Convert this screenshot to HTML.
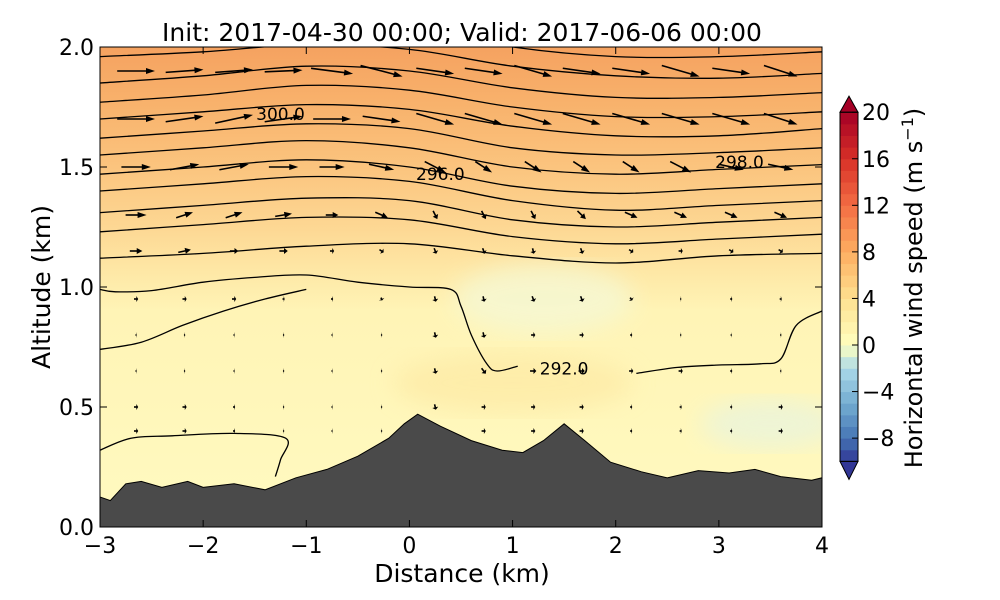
<!DOCTYPE html>
<html><head><meta charset="utf-8"><style>
body{margin:0;background:#fff;}
svg{display:block;font-family:"DejaVu Sans","Liberation Sans",sans-serif;}
</style></head><body>
<svg id="chart" width="1000" height="600">
<defs>
<linearGradient id="bg" x1="0" y1="0" x2="0" y2="1">
<stop offset="0" stop-color="#f5a260"/>
<stop offset="0.12" stop-color="#f8b26c"/>
<stop offset="0.25" stop-color="#fbc47e"/>
<stop offset="0.38" stop-color="#fdd894"/>
<stop offset="0.47" stop-color="#fee8a6"/>
<stop offset="0.55" stop-color="#fff4b6"/>
<stop offset="1" stop-color="#fffac0"/>
</linearGradient>
<filter id="blur"><feGaussianBlur stdDeviation="12"/></filter>
<clipPath id="clip"><rect x="100" y="47" width="722" height="480"/></clipPath>
</defs>
<text x="462" y="41" text-anchor="middle" font-size="25">Init: 2017-04-30 00:00; Valid: 2017-06-06 00:00</text>
<g id="plot" clip-path="url(#clip)"></g>
<rect x="100" y="47" width="722" height="480" fill="none" stroke="#000" stroke-width="1"/>
<g id="axes"></g>
<g id="cbar"></g>
<text x="462" y="582" text-anchor="middle" font-size="25">Distance (km)</text>
<text transform="translate(50,287) rotate(-90)" text-anchor="middle" font-size="25">Altitude (km)</text>
<text transform="translate(922,288) rotate(-90)" text-anchor="middle" font-size="24">Horizontal wind speed (m s<tspan dy="-9" font-size="16">−1</tspan><tspan dy="9">)</tspan></text>
</svg>
<script>
const xTicks=[-3,-2,-1,0,1,2,3,4];
const yTicks=[0.0,0.5,1.0,1.5,2.0];
const cbTicks=[-8,-4,0,4,8,12,16,20];
const terrainX=[-3,-2.9,-2.75,-2.6,-2.4,-2.15,-2,-1.7,-1.4,-1.1,-0.8,-0.5,-0.2,-0.05,0.08,0.3,0.6,0.9,1.1,1.3,1.5,1.7,1.95,2.25,2.5,2.8,3.1,3.35,3.6,3.9,4];
const terrainZ=[0.125,0.11,0.18,0.19,0.165,0.19,0.165,0.18,0.155,0.205,0.24,0.295,0.37,0.43,0.47,0.42,0.36,0.32,0.31,0.36,0.43,0.36,0.27,0.23,0.205,0.235,0.225,0.24,0.21,0.195,0.205];
const contourX=[-3,-2,-1,0,1,2,3,4];
const contours=[
[1.12,1.14,1.17,1.18,1.13,1.10,1.13,1.14],
[1.23,1.26,1.29,1.28,1.21,1.18,1.20,1.22],
[1.31,1.34,1.37,1.36,1.28,1.25,1.27,1.29],
[1.40,1.43,1.46,1.44,1.36,1.32,1.34,1.36],
[1.47,1.50,1.53,1.50,1.42,1.39,1.41,1.43],
[1.55,1.58,1.61,1.58,1.50,1.47,1.49,1.51],
[1.62,1.65,1.68,1.66,1.58,1.55,1.56,1.58],
[1.70,1.73,1.76,1.74,1.67,1.63,1.63,1.66],
[1.77,1.80,1.84,1.82,1.75,1.71,1.71,1.73],
[1.85,1.88,1.92,1.90,1.83,1.79,1.79,1.81],
[1.96,1.98,2.01,1.99,1.92,1.88,1.87,1.89],
[2.05,2.08,2.1,2.08,2.0,1.96,1.96,1.98]];
const line292aX=[-3,-2.85,-2.5,-2,-1.5,-1,-0.5,0,0.4,0.5,0.6,0.75,0.85,1.05];
const line292aZ=[0.99,0.98,0.985,1.02,1.04,1.05,1.02,1.0,0.99,0.92,0.80,0.68,0.65,0.67];
const line292bX=[-3,-2.6,-2.2,-1.8,-1.4,-1.0];
const line292bZ=[0.74,0.77,0.84,0.90,0.95,0.99];
const line292cX=[2.2,2.6,3.0,3.4,3.6,3.75,4.0];
const line292cZ=[0.64,0.665,0.675,0.68,0.70,0.84,0.90];
const lineLowX=[-3,-2.7,-2.3,-1.7,-1.2,-1.25,-1.3];
const lineLowZ=[0.32,0.37,0.38,0.39,0.37,0.28,0.21];
const arrowCols=[-2.65,-2.18,-1.7,-1.22,-0.75,-0.27,0.25,0.72,1.2,1.67,2.15,2.63,3.12,3.6];
const arrowRows=[1.9,1.7,1.5,1.3,1.15,0.95,0.8,0.65,0.5,0.4];
const arrowU=[
[9,9,9,9,10,10,9,9,9,9,9,9,9,8],
[9,9,9,9,9,9,9,9,9,9,9,9,9,8],
[7,7,7,7,6,6,5,4,4,4,4,5,6,6],
[5,4,4,4,3,3,1,1,1,2,3,3,3,3],
[3,3,2,2,1,1,0.5,0.5,0.3,0.5,1,1,1,1],
[1,1,1,0.5,0.5,0.3,0.3,0.3,0.5,0.5,0.5,0.3,0.5,0.5],
[0.3,0.3,0.3,0.3,0.3,0.3,0.3,0.3,1,1,0.5,0.3,0.3,0.3],
[0.3,0.3,0.3,0.3,0.3,0.3,0.3,1,1.5,1.5,1,1,0.5,0.3],
[1,1,0.5,0.3,0.3,0.3,0.3,1,1,1,0.5,0.5,0.5,1],
[1,1,0.5,0.3,0.3,0.3,0.3,1,1,1,0.5,0.5,0.5,1]];
const arrowV=[
[0,0.5,0.5,0.3,-1,-2,-1,-1,-2,-1,-1,-2,-1,-2],
[0,1,1.5,1,0,-1,-2,-2,-2,-2,-2,-2,-2,-2],
[0,1,1,0,0,-1,-2,-2,-2,-2,-2,-2,-1,-1],
[0,1,1,0.5,0,-1,-1.5,-1.5,-1.5,-1.5,-1,-1,-1,-1],
[0,0.5,0,0,0,-0.5,-1,-1,-1,-1,-0.5,0,-0.5,-0.5],
[0,0,0,0,0,-0.5,-1,-1,-1,-1,-0.5,0,0,0],
[0,0,0,0,0,0,-1,-1,0,0,0,0,0,0],
[0,0,0,0,0,0,-1,-1,0,0,0,0,0,0],
[0,0,0,0,0,0,-1,0,0,0,0,0,0,0],
[0,0,0,0,0,0,-1,0,0,0,0,0,0,0]];
const contourLabels=[["300.0",-1.25,1.72],["296.0",0.3,1.47],["298.0",3.2,1.52],["292.0",1.5,0.66]];

const X=v=>100+(v+3)*722/7, Y=v=>527-v*240;
const NS="http://www.w3.org/2000/svg";
function mk(tag,attrs,parent){const e=document.createElementNS(NS,tag);for(const k in attrs)e.setAttribute(k,attrs[k]);parent.appendChild(e);return e;}
function smooth(xs,zs){const p=xs.map((x,i)=>[X(x),Y(zs[i])]);let d=`M${p[0][0]},${p[0][1]}`;
for(let i=0;i<p.length-1;i++){const p0=p[i-1]||p[i],p1=p[i],p2=p[i+1],p3=p[i+2]||p2;
d+=` C${p1[0]+(p2[0]-p0[0])/6},${p1[1]+(p2[1]-p0[1])/6} ${p2[0]-(p3[0]-p1[0])/6},${p2[1]-(p3[1]-p1[1])/6} ${p2[0]},${p2[1]}`;}return d;}
const plot=document.getElementById('plot');
let r=mk('rect',{x:100,y:47,width:722,height:480,fill:'url(#bg)'},plot);


let b=mk('ellipse',{cx:X(1.3),cy:Y(0.95),rx:90,ry:35,fill:'#f5f8d4',opacity:0.8,filter:'url(#blur)'},plot);


b=mk('ellipse',{cx:X(3.5),cy:Y(0.43),rx:70,ry:25,fill:'#eaf4dc',opacity:0.8,filter:'url(#blur)'},plot);


b=mk('ellipse',{cx:X(1.0),cy:Y(0.6),rx:120,ry:30,fill:'#fde7a0',opacity:0.6,filter:'url(#blur)'},plot);


contours.forEach(c=>{const p=mk('path',{d:smooth(contourX,c),fill:'none',stroke:'#000','stroke-width':1.3},plot);

});
[[line292aX,line292aZ],[line292bX,line292bZ],[line292cX,line292cZ],[lineLowX,lineLowZ]].forEach(([a,z])=>{const p=mk('path',{d:smooth(a,z),fill:'none',stroke:'#000','stroke-width':1.3},plot);

});
arrowRows.forEach((z,ri)=>arrowCols.forEach((x,ci)=>{const u=arrowU[ri][ci],v=arrowV[ri][ci];
const s=4.2, dx=u*s, dy=-v*s*1.3, cx=X(x), cy=Y(z);const L=Math.hypot(dx,dy);
const g=mk('g',{},plot);


const x0=cx-dx/2,y0=cy-dy/2,x1=cx+dx/2,y1=cy+dy/2;const ux=dx/L,uy=dy/L;const h=Math.min(9,L*0.45);
mk('line',{x1:x0,y1:y0,x2:x1-ux*h*0.6,y2:y1-uy*h*0.6,stroke:'#000','stroke-width':1.6},g);
mk('polygon',{points:`${x1},${y1} ${x1-ux*h-uy*3},${y1-uy*h+ux*3} ${x1-ux*h+uy*3},${y1-uy*h-ux*3}`,fill:'#000'},g);}));
contourLabels.forEach(([t,x,z])=>{const e=mk('text',{x:X(x),y:Y(z)+6,'font-size':17,'text-anchor':'middle'},plot);e.textContent=t;

});
let tp=`M${X(terrainX[0])},527 `+terrainX.map((x,i)=>`L${X(x)},${Y(terrainZ[i])}`).join(' ')+` L${X(4)},527 Z`;
const t=mk('path',{d:tp,fill:'#4a4a4a',stroke:'#000','stroke-width':1},plot);


const ax=document.getElementById('axes');
xTicks.forEach(v=>{const g=mk('g',{},ax);


mk('line',{x1:X(v),x2:X(v),y1:527,y2:520,stroke:'#000'},g);mk('line',{x1:X(v),x2:X(v),y1:47,y2:54,stroke:'#000'},g);
const e=mk('text',{x:X(v),y:553,'font-size':22,'text-anchor':'middle'},g);e.textContent=v<0?'−'+(-v):v;});
yTicks.forEach(v=>{const g=mk('g',{},ax);


mk('line',{x1:100,x2:107,y1:Y(v),y2:Y(v),stroke:'#000'},g);mk('line',{x1:815,x2:822,y1:Y(v),y2:Y(v),stroke:'#000'},g);
const e=mk('text',{x:94,y:Y(v)+8,'font-size':22,'text-anchor':'end'},g);e.textContent=v.toFixed(1);});
const cb=document.getElementById('cbar');
const CY=v=>345-v*11.64;
const stops=[[-10,[49,54,149]],[-8,[69,117,180]],[-5,[116,173,209]],[-2,[171,217,233]],[0,[255,255,191]],[4,[254,224,144]],[8,[253,174,97]],[12,[244,109,67]],[16,[215,48,39]],[20,[165,0,38]]];
function col(v){for(let i=0;i<stops.length-1;i++){const[a,ca]=stops[i],[b2,cb2]=stops[i+1];if(v<=b2){const f=(v-a)/(b2-a);return 'rgb('+ca.map((c,k)=>Math.round(c+(cb2[k]-c)*f)).join(',')+')';}}return 'rgb(165,0,38)';}
for(let v=-10;v<20;v++){const e=mk('rect',{x:840,y:CY(v+1),width:18,height:11.64+0.5,fill:col(v+0.5)},cb);

}
let tri=mk('polygon',{points:`840,${CY(20)} 858,${CY(20)} 849,${CY(20)-16}`,fill:'#a50026',stroke:'#000'},cb);


tri=mk('polygon',{points:`840,${CY(-10)} 858,${CY(-10)} 849,${CY(-10)+18}`,fill:'#313695',stroke:'#000'},cb);


let fr=mk('rect',{x:840,y:CY(20),width:18,height:CY(-10)-CY(20),fill:'none',stroke:'#000'},cb);


cbTicks.forEach(v=>{const g=mk('g',{},cb);


mk('line',{x1:852,x2:858,y1:CY(v),y2:CY(v),stroke:'#000'},g);
const e=mk('text',{x:862,y:CY(v)+8,'font-size':22},g);e.textContent=v<0?'−'+(-v):v;});
</script>
</body></html>
